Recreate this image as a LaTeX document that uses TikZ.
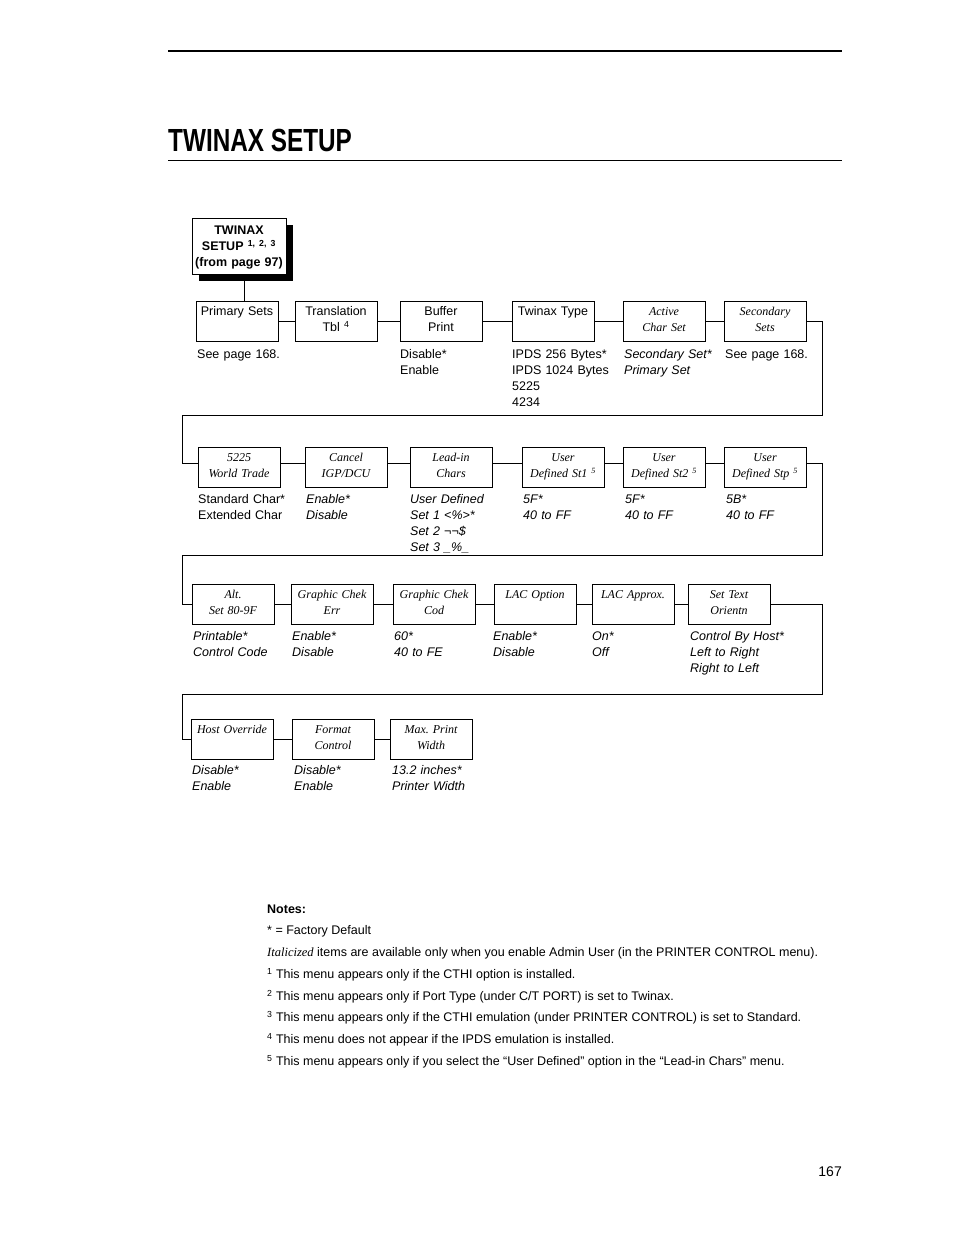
\documentclass[tikz,border=0pt]{standalone}
\usepackage{fontspec}
\setmainfont{Liberation Sans}
\newfontfamily\tms{Liberation Serif}
\usepackage{graphicx}
\tikzset{
  mbx/.style={draw, line width=1pt, minimum width=82pt, minimum height=40pt, inner sep=0pt},
  mlb/.style={anchor=base, text width=82pt, align=center, inner sep=0pt, font=\fontsize{12.5}{16}\selectfont},
  ilb/.style={mlb, font=\fontsize{12}{16}\tms\itshape},
  val/.style={anchor=base west, text width=120pt, align=left, inner sep=0pt, font=\fontsize{12.5}{16}\selectfont},
  ival/.style={val, font=\fontsize{12.5}{16}\selectfont\itshape},
  con/.style={line width=1pt},
  note/.style={anchor=base west, inner sep=0pt, font=\fontsize{12.5}{15}\selectfont},
}
% name, x-left, y-top, label style, label text
\newcommand{\mnu}[5]{%
  \node[mbx] (#1) at ({#2+41},{#3+20}) {};
  \node[#4] (#1-t) at ({#2+41},{#3+14.5}) {#5};
}
\begin{document}
\begin{tikzpicture}[x=1pt,y=-1pt]
\useasboundingbox (0,0) rectangle (954,1235);
% header
\draw[line width=2.2pt] (168,51) -- (842,51);
\node[anchor=base west, inner sep=0pt, font=\fontsize{32}{32}\selectfont\bfseries] (title) at (168,151) {\scalebox{0.76}[1]{TWINAX SETUP}};
\draw[line width=0.9pt] (168,160) -- (842,160);
% top box
\node[fill=black, minimum width=94pt, minimum height=56pt, inner sep=0pt] (tws) at (246,253) {};
\node[draw, fill=white, line width=1pt, minimum width=94pt, minimum height=56pt, inner sep=0pt] (tw) at (239,246) {};
\node[anchor=base, text width=94pt, align=center, inner sep=0pt, font=\fontsize{12.5}{16}\selectfont\bfseries] (tw-t) at (239,234.5) {TWINAX\\SETUP \textsuperscript{1, 2, 3}\\(from page 97)};
% row 1
\mnu{ps}{196}{301}{mlb}{Primary Sets}
\mnu{tt}{295}{301}{mlb}{Translation\\Tbl \textsuperscript{4}}
\mnu{bp}{400}{301}{mlb}{Buffer\\Print}
\mnu{ty}{512}{301}{mlb}{Twinax Type}
\mnu{ac}{623}{301}{ilb}{Active\\Char Set}
\mnu{ss}{724}{301}{ilb}{Secondary\\Sets}
\coordinate (twb) at (244,280);
\draw[con] (twb) -- (twb |- ps.north);
\draw[con] (ps) -- (tt); \draw[con] (tt) -- (bp); \draw[con] (bp) -- (ty);
\draw[con] (ty) -- (ac); \draw[con] (ac) -- (ss);
\node[val] (v-ps) at (197,358) {See page 168.};
\node[val] (v-bp) at (400,358) {Disable*\\Enable};
\node[val] (v-ty) at (512,358) {IPDS 256 Bytes*\\IPDS 1024 Bytes\\5225\\4234};
\node[ival] (v-ac) at (624,358) {Secondary Set*\\Primary Set};
\node[val] (v-ss) at (725,358) {See page 168.};
% row 2
\mnu{wt}{198}{447}{ilb}{5225\\World Trade}
\mnu{ci}{305}{447}{ilb}{Cancel\\IGP/DCU}
\mnu{lc}{410}{447}{ilb}{Lead-in\\Chars}
\mnu{ua}{522}{447}{ilb}{User\\Defined St1 \textsuperscript{5}}
\mnu{ub}{623}{447}{ilb}{User\\Defined St2 \textsuperscript{5}}
\mnu{uc}{724}{447}{ilb}{User\\Defined Stp \textsuperscript{5}}
\coordinate (k1) at (822,415);
\coordinate (k2) at (182,415);
\draw[con] (ss.east) -| (k1) -- (k2) |- ([yshift=4pt]wt.west);
\draw[con] ([yshift=4pt]wt.east) -- ([yshift=4pt]ci.west);
\draw[con] ([yshift=4pt]ci.east) -- ([yshift=4pt]lc.west);
\draw[con] ([yshift=4pt]lc.east) -- ([yshift=4pt]ua.west);
\draw[con] ([yshift=4pt]ua.east) -- ([yshift=4pt]ub.west);
\draw[con] ([yshift=4pt]ub.east) -- ([yshift=4pt]uc.west);
\node[val] (v-wt) at (198,503.5) {Standard Char*\\Extended Char};
\node[ival] (v-ci) at (306,503.5) {Enable*\\Disable};
\node[ival] (v-lc) at (410,503.5) {User Defined\\Set 1 <\%>*\\Set 2 ¬¬\$\\Set 3 \_\%\_};
\node[ival] (v-ua) at (523,503.5) {5F*\\40 to FF};
\node[ival] (v-ub) at (625,503.5) {5F*\\40 to FF};
\node[ival] (v-uc) at (726,503.5) {5B*\\40 to FF};
% row 3
\mnu{al}{192}{584}{ilb}{Alt.\\Set 80-9F}
\mnu{ge}{291}{584}{ilb}{Graphic Chek\\Err}
\mnu{gc}{393}{584}{ilb}{Graphic Chek\\Cod}
\mnu{lo}{494}{584}{ilb}{LAC Option}
\mnu{la}{592}{584}{ilb}{LAC Approx.}
\mnu{st}{688}{584}{ilb}{Set Text\\Orientn}
\coordinate (k3) at (822,555);
\coordinate (k4) at (182,555);
\draw[con] ([yshift=4pt]uc.east) -| (k3) -- (k4) |- (al.west);
\draw[con] (al) -- (ge); \draw[con] (ge) -- (gc); \draw[con] (gc) -- (lo);
\draw[con] (lo) -- (la); \draw[con] (la) -- (st);
\node[ival] (v-al) at (193,640.5) {Printable*\\Control Code};
\node[ival] (v-ge) at (292,640.5) {Enable*\\Disable};
\node[ival] (v-gc) at (394,640.5) {60*\\40 to FE};
\node[ival] (v-lo) at (493,640.5) {Enable*\\Disable};
\node[ival] (v-la) at (592,640.5) {On*\\Off};
\node[ival] (v-st) at (690,640.5) {Control By Host*\\Left to Right\\Right to Left};
% row 4
\mnu{ho}{191}{719}{ilb}{Host Override}
\mnu{fc}{292}{719}{ilb}{Format\\Control}
\mnu{mw}{390}{719}{ilb}{Max.\ Print\\Width}
\coordinate (k5) at (822,694);
\coordinate (k6) at (182,694);
\draw[con] (st.east) -| (k5) -- (k6) |- (ho.west);
\draw[con] (ho) -- (fc); \draw[con] (fc) -- (mw);
\node[ival] (v-ho) at (192,774.5) {Disable*\\Enable};
\node[ival] (v-fc) at (294,774.5) {Disable*\\Enable};
\node[ival] (v-mw) at (392,774.5) {13.2 inches*\\Printer Width};
% notes
\node[note, font=\fontsize{12.5}{15}\selectfont\bfseries] (n0) at (267,913.5) {Notes:};
\node[note] (n1) at (267,934.5) {* = Factory Default};
\node[note] (n2) at (267,956.5) {{\tms\itshape Italicized} items are available only when you enable Admin User (in the PRINTER CONTROL menu).};
\node[note] (n3) at (267,978.5) {\textsuperscript{1} This menu appears only if the CTHI option is installed.};
\node[note] (n4) at (267,1000.5) {\textsuperscript{2} This menu appears only if Port Type (under C/T PORT) is set to Twinax.};
\node[note] (n5) at (267,1021.5) {\textsuperscript{3} This menu appears only if the CTHI emulation (under PRINTER CONTROL) is set to Standard.};
\node[note] (n6) at (267,1043.5) {\textsuperscript{4} This menu does not appear if the IPDS emulation is installed.};
\node[note] (n7) at (267,1065.5) {\textsuperscript{5} This menu appears only if you select the “User Defined” option in the “Lead-in Chars” menu.};
\node[anchor=base east, inner sep=0pt, font=\fontsize{14}{14}\selectfont] (pg) at (842,1176) {167};
\end{tikzpicture}
\end{document}
